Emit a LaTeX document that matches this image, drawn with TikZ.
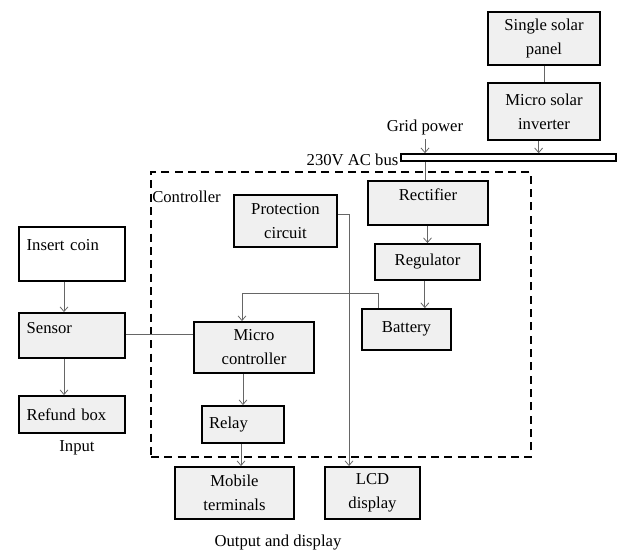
\documentclass[tikz,border=0pt]{standalone}
\usepackage{fontspec}
\setmainfont{Liberation Serif}
\usetikzlibrary{arrows.meta}

\begin{document}
\begin{tikzpicture}[x=0.75pt,y=-0.75pt,
  every node/.style={font=\fontsize{12.5}{18}\selectfont},
  box/.style={draw=black,line width=1.4pt,fill=black!6,align=center,inner sep=2pt},
  lbox/.style={box,align=left,inner xsep=5.5pt,text width=#1},
  raise/.style={text depth=#1},
  conn/.style={draw=black!60,line width=0.6pt},
  tip/.style={-{Straight Barb[length=3.5pt,width=6pt]}}]
\useasboundingbox (0,0) rectangle (622,553);

% power side
\node[box,minimum width=84pt,minimum height=39.75pt] (panel) at (544,38.5) {Single solar\\panel};
\node[box,minimum width=84pt,minimum height=42.75pt] (inv) at (544,111.5) {Micro solar\\inverter};
\node[draw=black,line width=1.4pt,fill=white,minimum width=161pt,minimum height=5pt,inner sep=0pt] (bus) at (508.5,157.5) {};
\node[anchor=east,inner sep=1pt] (buslbl) at (400,160) {230V AC bus};
\node (grid) at (425,127) {Grid power};

% controller frame
\node[draw=black,line width=1.2pt,dash pattern=on 6pt off 4pt,minimum width=285pt,minimum height=213.75pt,inner sep=0pt] (ctrl) at (341,314.5) {};
\node[anchor=west,inner sep=0pt] (ctrllbl) at (152,197) {Controller};

\node[box,minimum width=77.25pt,minimum height=39pt] (prot) at (285.5,221) {Protection\\circuit};
\node[box,minimum width=90pt,minimum height=33pt,raise=12pt] (rect) at (428,203) {Rectifier};
\node[box,minimum width=78.75pt,minimum height=27pt] (reg) at (427.5,262) {Regulator};
\node[box,minimum width=66.75pt,minimum height=30.75pt,raise=3pt] (bat) at (406.5,329.5) {Battery};
\node[box,minimum width=90pt,minimum height=38.25pt] (micro) at (254,347.5) {Micro\\controller};
\node[lbox=51pt,minimum height=27.75pt] (relay) at (243,424.5) {Relay};

% input side
\node[lbox=68pt,minimum height=40.5pt,fill=white,raise=13pt] (coin) at (72,254) {Insert coin};
\node[lbox=68pt,minimum height=33.75pt,raise=11pt] (sensor) at (72,335.5) {Sensor};
\node[lbox=68pt,minimum height=27.75pt] (refund) at (72,414.5) {Refund box};
\node (inlbl) at (77,448) {Input};

% output side
\node[box,minimum width=89.25pt,minimum height=39pt] (mobile) at (234.5,493) {Mobile\\terminals};
\node[box,minimum width=71.25pt,minimum height=39pt] (lcd) at (372.5,493) {LCD\\display};
\node (outlbl) at (278,543) {Output and display};

% connectors
\draw[conn] (panel.south) -- (inv.north);
\draw[conn,tip] ([xshift=-4pt]inv.south) -- ([xshift=-4pt]inv.south |- bus.north);
\draw[conn,tip] (grid.south) -- (grid.south |- bus.north);
\draw[conn] (grid.south |- bus.south) -- (grid.south |- rect.north);
\draw[conn,tip] (reg.north |- rect.south) -- (reg.north);
\draw[conn,tip] ([xshift=-2pt]reg.south) -- ([xshift=-2pt]reg.south |- bat.north);
\draw[conn,tip] ([xshift=12.75pt]bat.north west) -- ++(0,-15) -| ([xshift=-9pt]micro.north);
\draw[conn,tip] ([xshift=-6pt]coin.south) -- ([xshift=-6pt]sensor.north);
\draw[conn,tip] ([xshift=-6pt]sensor.south) -- ([xshift=-6pt]refund.north);
\draw[conn] ([yshift=1pt]sensor.east) -- ([yshift=1pt]sensor.east -| micro.west);
\draw[conn,tip] (relay.north |- micro.south) -- (relay.north);
\draw[conn,tip] ([xshift=-1.5pt]relay.south) -- ([xshift=-1.5pt]relay.south |- mobile.north);
\draw[conn,tip] ([yshift=5pt]prot.east) -| ([xshift=-17.6pt]lcd.north);
\end{tikzpicture}
\end{document}
